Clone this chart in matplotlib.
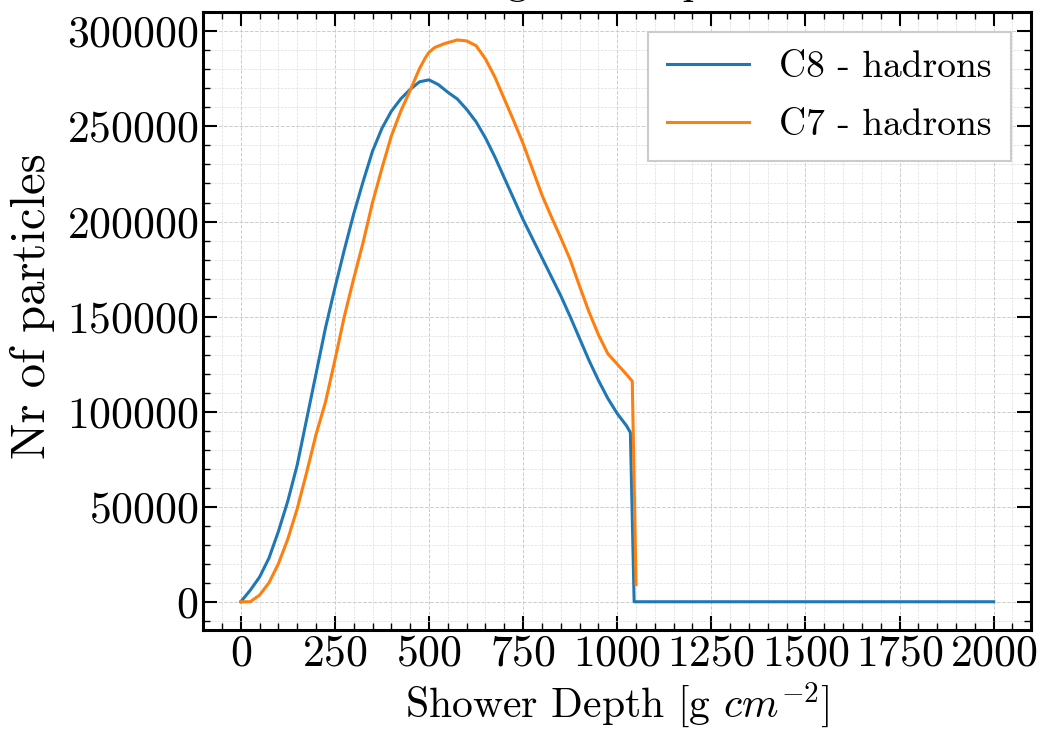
import matplotlib
matplotlib.use("Agg")
import matplotlib.pyplot as plt
from matplotlib.ticker import MultipleLocator

plt.rcParams['font.family'] = 'serif'
plt.rcParams['font.serif'] = ['cmr10']
plt.rcParams['mathtext.fontset'] = 'cm'
plt.rcParams['axes.formatter.use_mathtext'] = True

# Shower depth [g cm^-2] and particle counts
depth_c8 = [0, 25, 50, 75, 100, 125, 150, 175, 200, 225, 250, 275, 300, 325, 350,
            375, 400, 425, 450, 475, 500, 525, 550, 575, 600, 625, 650, 675, 700,
            725, 750, 775, 800, 825, 850, 875, 900, 925, 950, 975, 1000, 1025, 1035,
            1045, 1250, 1500, 1750, 2000]
hadrons_c8 = [0, 6000, 13000, 23000, 37000, 53000, 72000, 96000, 120000, 144000,
              165000, 185000, 204000, 221000, 237000, 249000, 258000, 264500, 269500,
              273500, 274500, 272000, 268000, 264500, 259000, 252500, 244000, 234000,
              223000, 212000, 201000, 191000, 181000, 171000, 161000, 150000, 138500,
              127000, 116500, 107000, 99000, 92500, 89000,
              0, 0, 0, 0, 0]

depth_c7 = [0, 25, 50, 75, 100, 125, 150, 175, 200, 225, 250, 275, 300, 325, 350,
            375, 400, 425, 450, 475, 490, 500, 515, 540, 575, 600, 625, 650, 675, 700,
            725, 750, 775, 800, 825, 850, 875, 900, 925, 950, 975, 1000, 1025, 1040,
            1050]
hadrons_c7 = [0, 0, 3500, 10000, 20000, 33000, 49000, 68000, 88000, 105000, 127000,
              150000, 170000, 189000, 210000, 228000, 245000, 258000, 269000, 280500,
              286000, 289000, 291500, 293500, 295500, 295000, 292500, 285500, 276000,
              264500, 253000, 241000, 227500, 214000, 202500, 191500, 180000, 166000,
              152500, 140500, 130500, 125000, 119500, 116000, 9000]

labels = ["C8 - hadrons", "C7 - hadrons"]
title = "Longitudinal profile"

fig = plt.figure(figsize=(10.47, 7.41), dpi=100)
ax = fig.add_axes([0.194, 0.15, 0.985 - 0.194, 0.984 - 0.15])

ax.plot(depth_c8, hadrons_c8, color='#1f77b4', lw=2.2, label=labels[0])
ax.plot(depth_c7, hadrons_c7, color='#ff7f0e', lw=2.2, label=labels[1])

ax.set_title(title, fontsize=30, pad=13)
ax.set_xlabel(r"Shower Depth [g $cm^{-2}$]", fontsize=30)
ax.set_ylabel("Nr of particles", fontsize=35)
ax.yaxis.set_label_coords(-0.179, 0.524)

ax.xaxis.set_major_locator(MultipleLocator(250))
ax.xaxis.set_minor_locator(MultipleLocator(50))
ax.yaxis.set_major_locator(MultipleLocator(50000))
ax.yaxis.set_minor_locator(MultipleLocator(10000))
ax.tick_params(which='both', direction='in', top=True, right=True, labelsize=31.5)
ax.tick_params(which='major', length=10, width=1.5)
ax.tick_params(which='minor', length=5, width=1.0)
for s in ax.spines.values():
    s.set_linewidth(2.2)

ax.grid(which='major', linestyle='--', color='#cccccc', linewidth=0.7)
ax.grid(which='minor', linestyle='--', color='#dddddd', linewidth=0.5)
ax.set_axisbelow(True)

leg = ax.legend(loc='upper right', fontsize=27, fancybox=False, framealpha=1,
                edgecolor='#cccccc', borderpad=0.5, labelspacing=0.65,
                handlelength=2.2, borderaxespad=0.55)
leg.get_frame().set_linewidth(1.5)

fig.savefig("out.png", dpi=100)
